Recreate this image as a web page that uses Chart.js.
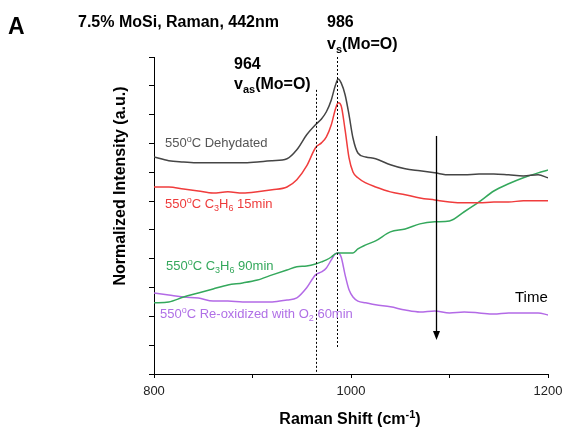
<!DOCTYPE html>
<html><head><meta charset="utf-8">
<script src="https://cdn.jsdelivr.net/npm/chart.js@4/dist/chart.umd.min.js"></script>
<style>html,body{margin:0;padding:0;background:#fff;} #c{display:block;}</style>
</head><body>
<canvas id="c" width="566" height="428"></canvas>
<script>
// ---- data (Raman shift in cm-1, normalized intensity in offset units) ----
const ramanShift = [800, 815, 830, 845, 860, 875, 890, 905, 920, 935, 945, 955, 964, 970, 975, 980, 984, 987, 990, 994, 998, 1002, 1007, 1015, 1025, 1040, 1055, 1070, 1085, 1100, 1115, 1130, 1145, 1160, 1175, 1190, 1200];
const dehydrated = [7.53, 7.40, 7.36, 7.33, 7.33, 7.33, 7.33, 7.36, 7.40, 7.47, 7.78, 8.30, 8.65, 8.85, 9.10, 9.51, 10.0, 10.24, 10.10, 9.69, 8.99, 8.19, 7.67, 7.53, 7.47, 7.26, 7.12, 7.05, 6.98, 6.91, 6.91, 6.94, 6.94, 6.91, 6.875, 6.91, 6.81];
const propene15 = [6.49, 6.49, 6.42, 6.35, 6.28, 6.32, 6.28, 6.32, 6.39, 6.49, 6.74, 7.22, 7.85, 8.02, 8.23, 8.65, 9.17, 9.41, 9.31, 8.47, 7.50, 7.01, 6.81, 6.63, 6.49, 6.32, 6.22, 6.11, 6.04, 5.97, 5.94, 5.94, 5.97, 5.97, 6.01, 6.01, 6.01];
const propene90 = [2.47, 2.50, 2.67, 2.81, 2.95, 3.09, 3.16, 3.26, 3.44, 3.61, 3.72, 3.75, 3.82, 3.89, 3.96, 4.06, 4.17, 4.20, 4.20, 4.20, 4.20, 4.20, 4.34, 4.48, 4.62, 4.93, 5.03, 5.21, 5.28, 5.31, 5.63, 5.97, 6.35, 6.60, 6.81, 6.98, 7.08];
const reoxidized = [2.81, 2.74, 2.67, 2.64, 2.53, 2.53, 2.50, 2.50, 2.50, 2.57, 2.64, 2.99, 3.44, 3.54, 3.68, 3.96, 4.17, 4.20, 4.06, 3.44, 2.92, 2.67, 2.53, 2.47, 2.40, 2.33, 2.22, 2.15, 2.19, 2.12, 2.15, 2.12, 2.08, 2.12, 2.12, 2.12, 2.05];
const xTickValues = [800, 900, 1000, 1100, 1200];
const xTickLabels = ['800', '', '1000', '', '1200'];
const peakPositions = [964, 986];

const FONT = '"Liberation Sans", Arial, Helvetica, sans-serif';
const pts = (ys) => ramanShift.map((x, i) => ({x, y: ys[i]}));

function rich(ctx, x, y, parts, size, weight, color, align) {
  const fontFor = (p) => `${weight} ${(p.sup || p.sub) ? Math.round(size * 0.68) : size}px ${FONT}`;
  let w = 0;
  parts.forEach(p => { ctx.font = fontFor(p); w += ctx.measureText(p.t).width; });
  let cx = align === 'center' ? x - w / 2 : x;
  ctx.fillStyle = color; ctx.textBaseline = 'alphabetic'; ctx.textAlign = 'left';
  parts.forEach(p => {
    ctx.font = fontFor(p);
    const dy = p.sup ? -size * 0.4 : (p.sub ? size * 0.25 : 0);
    ctx.fillText(p.t, cx, y + dy);
    cx += ctx.measureText(p.t).width;
  });
}

const annot = {
  id: 'annot',
  afterDraw(chart) {
    const ctx = chart.ctx, xs = chart.scales.x, ys = chart.scales.y;
    ctx.save();
    // dotted peak lines
    ctx.strokeStyle = '#000'; ctx.lineWidth = 1; ctx.setLineDash([2, 2]);
    const dl = [{x: peakPositions[0], y0: 0.05, y1: 9.86}, {x: peakPositions[1], y0: 0.94, y1: 11}];
    dl.forEach(d => {
      const px = Math.round(xs.getPixelForValue(d.x)) + 0.5;
      ctx.beginPath(); ctx.moveTo(px, ys.getPixelForValue(d.y1)); ctx.lineTo(px, ys.getPixelForValue(d.y0)); ctx.stroke();
    });
    ctx.setLineDash([]);
    // time arrow
    const ax = Math.round(xs.getPixelForValue(1086)) + 0.5;
    const aTop = ys.getPixelForValue(8.26), aBot = ys.getPixelForValue(1.18);
    ctx.lineWidth = 1.3;
    ctx.beginPath(); ctx.moveTo(ax, aTop); ctx.lineTo(ax, aBot - 6); ctx.stroke();
    ctx.fillStyle = '#000';
    ctx.beginPath(); ctx.moveTo(ax - 3.5, aBot - 9); ctx.lineTo(ax + 3.5, aBot - 9); ctx.lineTo(ax, aBot); ctx.closePath(); ctx.fill();

    // texts
    rich(ctx, 8, 34, [{t: 'A'}], 23, 'bold', '#000');
    rich(ctx, 78, 27, [{t: '7.5% MoSi, Raman, 442nm'}], 16, 'bold', '#000');
    rich(ctx, 327, 27, [{t: '986'}], 16, 'bold', '#000');
    rich(ctx, 327, 49, [{t: 'v'}, {t: 's', sub: true}, {t: '(Mo=O)'}], 16, 'bold', '#000');
    rich(ctx, 234, 69, [{t: '964'}], 16, 'bold', '#000');
    rich(ctx, 234, 89, [{t: 'v'}, {t: 'as', sub: true}, {t: '(Mo=O)'}], 16, 'bold', '#000');

    rich(ctx, 165, 147, [{t: '550'}, {t: 'o', sup: true}, {t: 'C Dehydated'}], 13, 'normal', '#555555');
    rich(ctx, 165, 208, [{t: '550'}, {t: 'o', sup: true}, {t: 'C C'}, {t: '3', sub: true}, {t: 'H'}, {t: '6', sub: true}, {t: ' 15min'}], 13, 'normal', '#ee3b3b');
    rich(ctx, 166, 270, [{t: '550'}, {t: 'o', sup: true}, {t: 'C C'}, {t: '3', sub: true}, {t: 'H'}, {t: '6', sub: true}, {t: ' 90min'}], 13, 'normal', '#34a85c');
    rich(ctx, 160, 318, [{t: '550'}, {t: 'o', sup: true}, {t: 'C Re-oxidized with O'}, {t: '2', sub: true}, {t: ' 60min'}], 13, 'normal', '#b070e6');
    rich(ctx, 515, 302, [{t: 'Time'}], 15, 'normal', '#000');

    // axis titles
    rich(ctx, 350, 424, [{t: 'Raman Shift (cm'}, {t: '-1', sup: true}, {t: ')'}], 16, 'bold', '#000', 'center');
    ctx.save();
    ctx.translate(125, 186); ctx.rotate(-Math.PI / 2);
    rich(ctx, 0, 0, [{t: 'Normalized Intensity (a.u.)'}], 16, 'bold', '#000', 'center');
    ctx.restore();
    ctx.restore();
  }
};

const mk = (label, ys, color) => ({
  label, data: pts(ys), borderColor: color, borderWidth: 1.5, pointRadius: 0,
  fill: false, cubicInterpolationMode: 'monotone'
});

new Chart(document.getElementById('c'), {
  type: 'line',
  data: {
    datasets: [
      mk('550°C Dehydated', dehydrated, '#454545'),
      mk('550°C C3H6 15min', propene15, '#f03c3c'),
      mk('550°C C3H6 90min', propene90, '#34a85c'),
      mk('550°C Re-oxidized with O2 60min', reoxidized, '#b36ae6')
    ]
  },
  options: {
    responsive: false, devicePixelRatio: 1, animation: false,
    layout: {padding: {left: 0, right: 18, top: 57, bottom: 0}},
    plugins: {legend: {display: false}, tooltip: {enabled: false}},
    scales: {
      x: {
        type: 'linear', min: 800, max: 1200,
        afterBuildTicks: (s) => { s.ticks = xTickValues.map(v => ({value: v})); },
        afterFit: (s) => { s.height = 54; s.paddingLeft = 0; s.paddingRight = 0; },
        grid: {drawOnChartArea: false, drawTicks: true, tickLength: 4, color: '#000'},
        border: {color: '#000', width: 1},
        ticks: {
          color: '#222', font: {family: FONT, size: 13}, padding: 6, maxRotation: 0, autoSkip: false,
          callback: (v) => { const i = xTickValues.indexOf(v); return i >= 0 ? xTickLabels[i] : ''; }
        }
      },
      y: {
        type: 'linear', min: 0, max: 11,
        afterFit: (s) => { s.width = 154; s.paddingTop = 0; s.paddingBottom = 0; },
        grid: {drawOnChartArea: false, drawTicks: true, tickLength: 5, color: '#000'},
        border: {color: '#000', width: 1},
        ticks: {stepSize: 1, callback: () => '', padding: 0}
      }
    }
  },
  plugins: [annot]
});
</script></body></html>
